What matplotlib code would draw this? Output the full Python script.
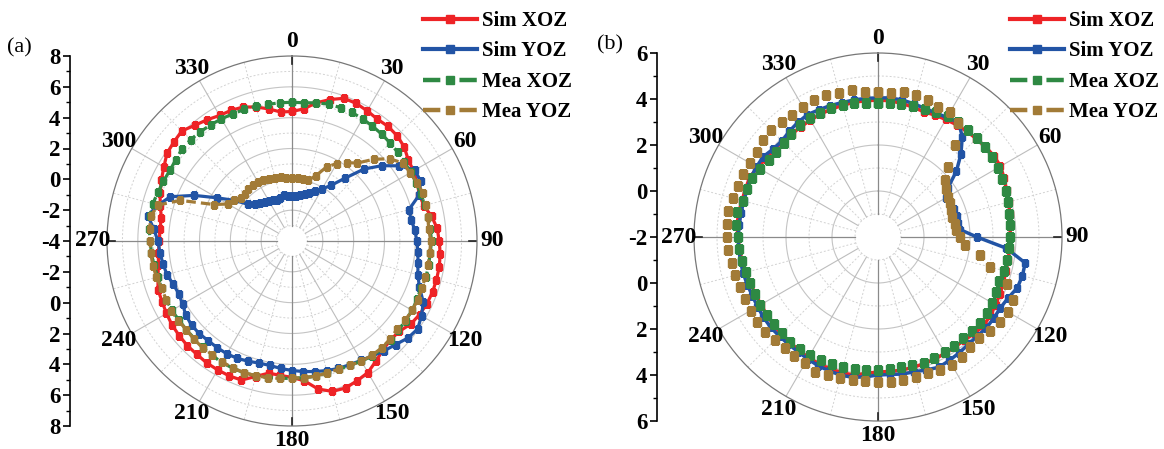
import numpy as np
import matplotlib.pyplot as plt
from matplotlib.lines import Line2D

plt.rcParams['font.family'] = 'Liberation Serif'
plt.rcParams['font.weight'] = 'bold'

# angles of the measured / simulated points (degrees, clockwise from top)
angle_deg = list(range(0, 360, 5))
angle_labels = ['0', '30', '60', '90', '120', '150', '180', '210', '240', '270', '300', '330']
series_names = ['Sim XOZ', 'Sim YOZ', 'Mea XOZ', 'Mea YOZ']

# panel (a)
a_sim_xoz = [4.4, 4.6, 5.1, 5.5, 5.85, 5.85, 5.75, 5.65, 5.7, 5.65, 5.5, 5.2,
             5.1, 4.95, 4.8, 4.85, 5.2, 5.45, 5.55, 5.65, 5.7, 5.7, 5.7, 5.65,
             5.55, 5.4, 5.1, 5.05, 5.2, 5.5, 5.85, 6.0, 6.15, 6.1, 5.75, 5.1,
             4.85, 4.75, 4.7, 5.1, 5.6, 5.65, 5.65, 5.65, 5.6, 5.6, 5.55, 5.5,
             5.4, 5.3, 5.25, 5.0, 4.8, 4.7, 4.6, 4.6, 4.6, 4.85, 5.1, 5.35,
             5.6, 5.9, 6.0, 6.1, 5.8, 5.6, 5.4, 5.35, 5.25, 5.0, 4.7, 4.4]
a_sim_yoz = [-1.1, -1.05, -1.0, -0.85, -0.7, -0.4, -0.1, 0.4, 1.3, 2.6, 3.6, 4.5,
             5.2, 5.2, 4.8, 3.85, 3.85, 4.0, 4.1, 4.2, 4.3, 4.45, 4.8, 5.4,
             5.7, 5.95, 5.8, 5.5, 5.3, 5.1, 4.95, 4.85, 4.8, 4.7, 4.6, 4.5,
             4.4, 4.3, 4.2, 4.2, 4.3, 4.4, 4.45, 4.45, 4.45, 4.5, 4.5, 4.4,
             4.2, 4.1, 4.2, 4.4, 4.5, 4.6, 4.7, 5.0, 5.5, 5.0, 4.4, 3.0,
             1.6, 0.6, -0.3, -0.6, -0.8, -0.9, -1.0, -1.1, -1.2, -1.1, -1.0, -1.1]
a_mea_xoz = [5.0, 5.0, 5.1, 5.2, 5.2, 5.2, 5.15, 5.1, 5.05, 5.0, 4.95, 4.9,
             4.9, 4.9, 4.9, 4.9, 4.95, 5.0, 5.05, 5.0, 5.0, 5.0, 4.9, 4.95,
             5.0, 5.0, 5.0, 5.05, 5.1, 5.1, 5.0, 4.9, 4.85, 4.85, 4.9, 4.9,
             4.9, 4.95, 5.0, 5.05, 5.1, 5.1, 5.1, 5.05, 5.0, 4.95, 4.95, 4.95,
             5.0, 5.0, 5.0, 5.0, 5.1, 5.15, 5.2, 5.3, 5.35, 5.35, 5.25, 5.2,
             5.15, 5.2, 5.3, 5.3, 5.25, 5.2, 5.15, 5.1, 5.08, 5.05, 5.0, 5.0]
a_mea_yoz = [0.1, 0.1, 0.1, 0.1, 0.5, 1.3, 1.8, 2.2, 2.6, 3.5, 4.3, 4.8,
             4.85, 4.95, 5.05, 5.0, 4.95, 4.9, 5.0, 4.97, 4.97, 4.95, 4.98, 5.0,
             5.0, 4.96, 4.9, 5.0, 5.05, 5.05, 5.0, 4.9, 4.85, 4.85, 4.9, 4.9,
             4.9, 4.95, 5.0, 5.05, 5.08, 5.1, 5.05, 5.0, 5.03, 5.0, 4.95, 5.0,
             5.05, 5.0, 5.0, 5.1, 5.16, 5.2, 5.2, 5.27, 5.3, 5.0, 3.7, 1.6,
             0.8, 0.6, 0.3, 0.3, 0.4, 0.45, 0.4, 0.4, 0.3, 0.2, 0.2, 0.1]

# panel (b)
b_sim_xoz = [3.95, 3.95, 3.9, 3.85, 3.8, 3.85, 3.9, 3.96, 4.0, 4.05, 4.1, 4.15,
             4.15, 4.05, 3.95, 3.88, 3.82, 3.78, 3.74, 3.74, 3.75, 3.76, 3.8, 3.85,
             3.9, 3.95, 4.0, 3.92, 3.85, 3.83, 3.84, 3.85, 3.86, 3.87, 3.88, 3.87,
             3.87, 3.95, 4.1, 4.1, 4.1, 4.08, 4.06, 4.0, 3.98, 3.96, 3.93, 3.9,
             3.88, 3.88, 3.9, 3.92, 4.0, 4.05, 4.09, 4.15, 4.15, 4.12, 4.13, 4.15,
             4.05, 3.95, 3.9, 3.87, 3.84, 3.85, 3.87, 3.9, 3.92, 3.93, 3.95, 3.95]
b_sim_yoz = [4.05, 4.07, 4.05, 4.0, 3.95, 3.95, 4.0, 4.1, 3.7, 3.1, 2.45, 1.7,
             1.4, 1.45, 1.5, 1.55, 1.55, 1.6, 2.3, 3.6, 4.5, 4.5, 4.45, 4.25,
             4.15, 4.15, 4.15, 4.1, 4.1, 4.15, 4.2, 4.25, 4.15, 4.07, 4.05, 4.0,
             4.0, 4.1, 4.2, 4.22, 4.2, 4.17, 4.12, 4.08, 4.07, 4.08, 4.1, 4.08,
             4.05, 4.03, 4.05, 4.07, 4.07, 4.08, 4.08, 4.06, 4.05, 4.04, 4.06, 4.1,
             4.1, 4.09, 3.95, 3.9, 4.0, 4.08, 4.14, 4.1, 4.08, 4.05, 4.05, 4.05]
b_mea_xoz = [3.82, 3.83, 3.85, 3.88, 3.92, 3.98, 4.05, 4.1, 4.1, 4.08, 4.06, 4.04,
             4.03, 3.97, 3.9, 3.84, 3.8, 3.77, 3.74, 3.72, 3.7, 3.65, 3.6, 3.65,
             3.73, 3.77, 3.8, 3.77, 3.74, 3.77, 3.79, 3.8, 3.82, 3.78, 3.73, 3.75,
             3.78, 3.8, 3.83, 3.85, 3.88, 3.91, 3.93, 3.95, 3.96, 3.93, 3.91, 3.9,
             3.9, 3.9, 3.91, 3.95, 4.0, 4.05, 4.1, 4.18, 4.22, 4.09, 4.05, 4.03,
             3.9, 3.8, 3.77, 3.8, 3.87, 3.93, 3.95, 3.97, 3.98, 3.95, 3.9, 3.85]
b_mea_yoz = [4.3, 4.3, 4.4, 4.38, 4.33, 4.22, 4.27, 4.05, 3.2, 2.3, 1.83, 1.63,
             1.5, 1.46, 1.4, 1.35, 1.38, 1.42, 1.55, 1.8, 2.5, 3.04, 3.95, 4.48,
             4.53, 4.46, 4.33, 4.24, 4.23, 4.37, 4.43, 4.38, 4.3, 4.3, 4.31, 4.33,
             4.3, 4.3, 4.3, 4.35, 4.38, 4.48, 4.33, 4.34, 4.32, 4.33, 4.42, 4.43,
             4.4, 4.4, 4.4, 4.43, 4.45, 4.55, 4.57, 4.6, 4.63, 4.53, 4.49, 4.5,
             4.43, 4.43, 4.54, 4.55, 4.51, 4.49, 4.52, 4.56, 4.56, 4.5, 4.49, 4.33]

colors = ['#EE2326', '#2254A5', '#2E8943', '#A27B37']
W, H = 1164, 449

fig = plt.figure(figsize=(W / 100, H / 100), dpi=100)


def closed(vals):
    th = np.deg2rad(angle_deg + [360])
    return th, list(vals) + [vals[0]]


def setup_polar(rect, rmin, rmax, tick_len, lab_r):
    ax = fig.add_axes(rect, projection='polar')
    ax.set_theta_zero_location('N')
    ax.set_theta_direction(-1)
    ax.set_ylim(rmin, rmax)
    ax.set_xticks([])
    ax.set_yticks([])
    ax.grid(False)
    ax.spines['polar'].set_color('#777777')
    ax.spines['polar'].set_linewidth(0.9)
    full = np.linspace(0, 2 * np.pi, 400)
    for r in range(rmin + 1, rmax):
        if (r - rmin) % 2 == 0:
            ax.plot(full, [r] * len(full), color='#c4c4c4', lw=0.8, zorder=1)
        else:
            ax.plot(full, [r] * len(full), color='#d2d2d2', lw=0.7, ls=(0, (2, 2)), zorder=1)
    for d in range(0, 360, 15):
        th = np.deg2rad(d)
        if d % 90 == 0:
            ax.plot([th, th], [rmin + 1, rmax], color='#8a8a8a', lw=0.9, zorder=1)
        elif d % 30 == 0:
            ax.plot([th, th], [rmin + 1, rmax], color='#bdbdbd', lw=0.8, zorder=1)
        else:
            ax.plot([th, th], [rmin + 1, rmax], color='#d2d2d2', lw=0.7, ls=(0, (2, 2)), zorder=1)
    for d in (0, 90, 180, 270):
        th = np.deg2rad(d)
        ax.plot([th, th], [rmax - tick_len, rmax], color='#222222', lw=1.2, zorder=2)
    for d, lab in zip(range(0, 360, 30), angle_labels):
        ax.text(np.deg2rad(d), lab_r, lab, ha='center', va='center',
                fontsize=17, fontweight='bold', clip_on=False)
    return ax


def draw_scale(x_px, bottom_px, size_px, rmin, rmax):
    sax = fig.add_axes([x_px / W, bottom_px / H, 0.0001, size_px / H])
    span = rmax - rmin
    sax.set_ylim(-span, span)
    ticks = list(range(-span, span + 1, 2))
    sax.set_yticks(ticks)
    sax.set_yticklabels([str(abs(t) + rmin) for t in ticks])
    sax.set_yticks(list(range(-span + 1, span, 2)), minor=True)
    sax.set_xticks([])
    for s in ['top', 'right', 'bottom']:
        sax.spines[s].set_visible(False)
    sax.spines['left'].set_linewidth(1.2)
    sax.patch.set_visible(False)
    sax.tick_params(axis='y', which='major', length=5, width=1.2, labelsize=16.5, pad=2)
    sax.tick_params(axis='y', which='minor', length=3, width=1.0)
    for t in sax.get_yticklabels():
        t.set_fontweight('bold')


def legend_handles():
    hs = []
    for i, c in enumerate(colors):
        if i < 2:
            hs.append(Line2D([], [], color=c, lw=3, marker='s', ms=5.5))
        else:
            hs.append(Line2D([], [], color=c, lw=3.2, ls=(0, (3.9, 4.3)), marker='s', ms=5.5))
    return hs


def add_legend(x_px):
    fig.legend(legend_handles(), series_names, loc='upper left',
               bbox_to_anchor=(x_px / W, 1 - 11 / H), frameon=False, fontsize=15,
               handlelength=2.6, handletextpad=0.25, labelspacing=0.5,
               borderpad=0, borderaxespad=0)


# ---- panel (a)
ax_a = setup_polar([107 / W, 23 / H, 370 / W, 370 / H], -4, 8, 0.5, 8.95)
a_data = [a_sim_xoz, a_sim_yoz, a_mea_xoz, a_mea_yoz]
for i, vals in enumerate(a_data):
    th, rr = closed(vals)
    if i < 2:
        ax_a.plot(th, rr, color=colors[i], lw=2.3, marker='s', ms=3.8, zorder=3)
    else:
        ax_a.plot(th, rr, color=colors[i], lw=2.3, ls=(0, (3, 1.6)), marker='s', ms=5, zorder=3)
draw_scale(70, 23, 370, -4, 8)
add_legend(423)
fig.text(7 / W, 1 - 48 / H, '(a)', fontsize=16, fontweight='normal', va='center')

# ---- panel (b)
ax_b = setup_polar([694 / W, 28 / H, 368 / W, 368 / H], -2, 6, 0.35, 6.65)
b_data = [b_sim_xoz, b_sim_yoz, b_mea_xoz, b_mea_yoz]
for i, vals in enumerate(b_data):
    th, rr = closed(vals)
    if i < 2:
        ax_b.plot(th, rr, color=colors[i], lw=2.5, marker='s', ms=3.8, zorder=3)
    else:
        ax_b.plot(th, rr, color=colors[i], ls='none', marker='s', ms=5.2, zorder=3)
draw_scale(657, 28, 368, -2, 6)
add_legend(1010)
fig.text(597 / W, 1 - 45 / H, '(b)', fontsize=16, fontweight='normal', va='center')

fig.savefig('out.png', dpi=100)
